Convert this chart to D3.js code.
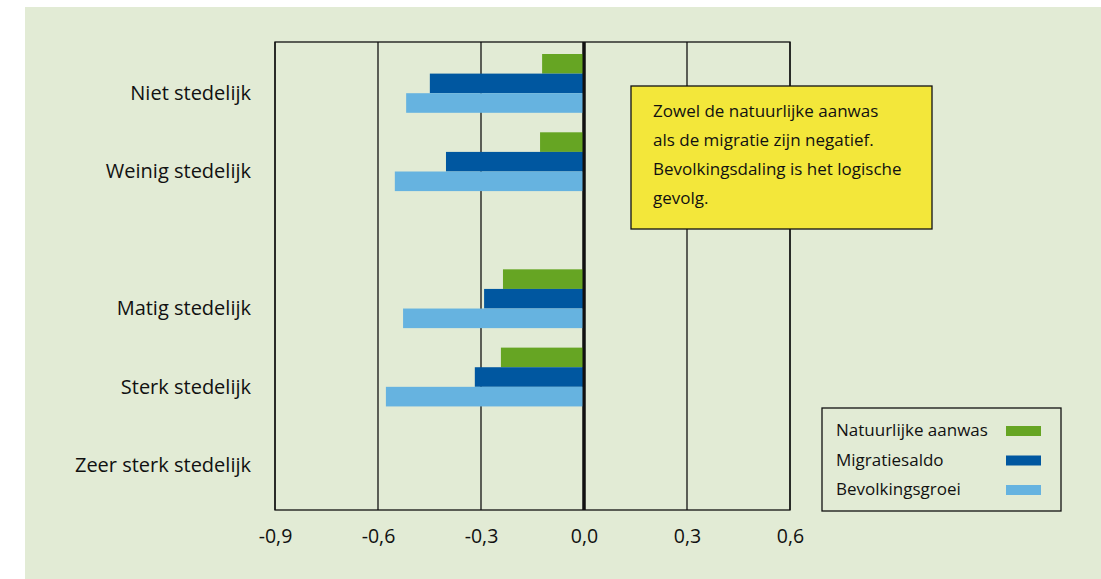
<!DOCTYPE html>
<html><head><meta charset="utf-8">
<script src="https://cdn.jsdelivr.net/npm/d3@7"></script>
<style>body{margin:0;background:#fff}svg{display:block}text{font-family:"Open Sans",sans-serif;fill:#111}</style>
</head><body>
<script>
const categories = ["Niet stedelijk","Weinig stedelijk","Matig stedelijk","Sterk stedelijk","Zeer sterk stedelijk"];
const seriesNames = ["Natuurlijke aanwas","Migratiesaldo","Bevolkingsgroei"];
const natuurlijkeAanwas = [-0.122,-0.128,-0.236,-0.242,null];
const migratiesaldo = [-0.449,-0.402,-0.291,-0.318,null];
const bevolkingsgroei = [-0.518,-0.551,-0.527,-0.577,null];
const tickValues = [-0.9,-0.6,-0.3,0,0.3,0.6];
const noteLines = ["Zowel de natuurlijke aanwas","als de migratie zijn negatief.","Bevolkingsdaling is het logische","gevolg."];

const colors = ["#66a523","#0057a0","#66b3e0"];
const W=1101,H=579;
const svg=d3.select("body").append("svg").attr("width",W).attr("height",H);
svg.append("rect").attr("x",25).attr("y",7).attr("width",W-25).attr("height",H-7).attr("fill","#e2ebd5");

const L=275,R=790,T=42,B=510;
const x=d3.scaleLinear().domain([-0.9,0.6]).range([L,R]);
// slot positions (extra gap between 2nd and 3rd category)
const slotPos=[0,1,2.75,3.75,4.75];
const y=d3.scaleLinear().domain([0,6]).range([54,54+6*78.3]);
const barH=19.6;

const g=svg.append("g");
g.selectAll("line.grid").data(tickValues).join("line")
 .attr("x1",d=>x(d)).attr("x2",d=>x(d)).attr("y1",T).attr("y2",B)
 .attr("stroke","#111").attr("stroke-width",d=>d===0?3:1.3);
g.append("rect").attr("x",L).attr("y",T).attr("width",R-L).attr("height",B-T)
 .attr("fill","none").attr("stroke","#111").attr("stroke-width",1.3);

const series=[natuurlijkeAanwas,migratiesaldo,bevolkingsgroei];
series.forEach((vals,si)=>{
  g.selectAll(null).data(vals.map((v,i)=>({v,i})).filter(d=>d.v!=null)).join("rect")
   .attr("x",d=>x(Math.min(0,d.v))).attr("width",d=>Math.abs(x(d.v)-x(0)))
   .attr("y",d=>y(slotPos[d.i])+si*barH).attr("height",barH)
   .attr("fill",colors[si]);
});
g.append("line").attr("x1",x(0)).attr("x2",x(0)).attr("y1",T).attr("y2",B).attr("stroke","#111").attr("stroke-width",3);

g.selectAll("text.cat").data(categories).join("text")
 .attr("x",251).attr("y",(d,i)=>y(slotPos[i])+39+7)
 .attr("text-anchor","end").attr("font-size",20).text(d=>d);

const axis=d3.axisBottom(x).tickValues(tickValues).tickSize(0).tickPadding(0)
 .tickFormat(d=>d3.format(".1f")(d).replace(".",",").replace("−","-"));
const ax=svg.append("g").attr("transform",`translate(0,${B})`).call(axis);
ax.select(".domain").remove();
ax.selectAll("text").attr("font-size",19.5).attr("dy",null).attr("y",33).style("font-family","'Open Sans',sans-serif").attr("fill","#111");

svg.append("rect").attr("x",631).attr("y",86).attr("width",301).attr("height",143)
 .attr("fill","#f3e73a").attr("stroke","#111").attr("stroke-width",1.3);
svg.selectAll("text.note").data(noteLines).join("text")
 .attr("x",653).attr("y",(d,i)=>117+i*29).attr("font-size",17).text(d=>d);

svg.append("rect").attr("x",822).attr("y",408).attr("width",239).attr("height",103)
 .attr("fill","none").attr("stroke","#111").attr("stroke-width",1.3);
seriesNames.forEach((n,i)=>{
  svg.append("text").attr("x",836).attr("y",436+i*29.5).attr("font-size",17).text(n);
  svg.append("rect").attr("x",1006).attr("y",426+i*29.5).attr("width",35).attr("height",10).attr("fill",colors[i]);
});
</script>
</body></html>
